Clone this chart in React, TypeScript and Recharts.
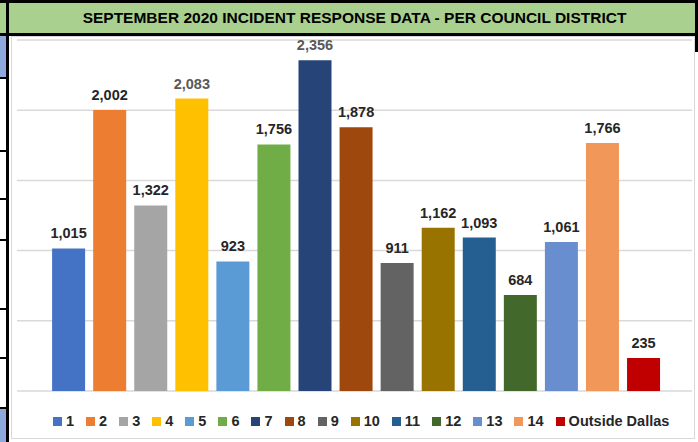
import React from 'react';
import { BarChart, Bar, XAxis, YAxis, CartesianGrid, Cell, LabelList } from 'recharts';

const districts = ['1', '2', '3', '4', '5', '6', '7', '8', '9', '10', '11', '12', '13', '14', 'Outside Dallas'];
const incidents = [1015, 2002, 1322, 2083, 923, 1756, 2356, 1878, 911, 1162, 1093, 684, 1061, 1766, 235];
const yTicks = [0, 500, 1000, 1500, 2000, 2500];
const title = 'SEPTEMBER 2020 INCIDENT RESPONSE DATA - PER COUNCIL DISTRICT';

const colors = [
  '#4472C4', '#ED7D31', '#A5A5A5', '#FFC000', '#5B9BD5', '#70AD47', '#264478', '#9E480E',
  '#636363', '#997300', '#255E91', '#43682B', '#698ED0', '#F1975A', '#C00000',
];
// a couple of the value labels are grey in the source
const grayLabels = ['4', '7'];

const data = districts.map((name, i) => ({ name, value: incidents[i] }));

const FONT = '"Liberation Sans", Arial, sans-serif';

const ValueLabel = (props: any) => {
  const { x, y, width, value, index } = props;
  const name = districts[index];
  return (
    <text
      x={x + width / 2}
      y={y - 10}
      textAnchor="middle"
      fontFamily={FONT}
      fontWeight="bold"
      fontSize={14.5}
      fill={grayLabels.includes(name) ? '#595959' : '#262626'}
    >
      {Number(value).toLocaleString('en-US')}
    </text>
  );
};

// spreadsheet cell borders peeking in on the left
const leftLines = [77, 150, 198, 239, 308, 357, 407];

const App = () => {
  return (
    <div style={{ position: 'absolute', left: 0, top: 0, width: 698, height: 442, background: '#fff', overflow: 'hidden', fontFamily: FONT }}>
      {/* left strip */}
      <div style={{ position: 'absolute', left: 0, top: 36, width: 6, height: 41, background: '#8EA9DB' }} />
      <div style={{ position: 'absolute', left: 0, top: 407, width: 6, height: 35, background: '#8EA9DB' }} />
      {leftLines.map((y) => (
        <div key={y} style={{ position: 'absolute', left: 0, top: y, width: 8, height: 2, background: '#000' }} />
      ))}
      <div style={{ position: 'absolute', left: 6, top: 0, width: 3, height: 442, background: '#000' }} />

      {/* title bar */}
      <div
        style={{
          position: 'absolute', left: 0, top: 0, width: 698, height: 30,
          background: '#A9D08E', borderTop: '3px solid #000', borderBottom: '3px solid #000',
        }}
      />
      <div style={{ position: 'absolute', left: 6, top: 0, width: 3, height: 36, background: '#000' }} />
      <div style={{ position: 'absolute', left: 695, top: 0, width: 3, height: 52, background: '#000' }} />
      <div
        style={{
          position: 'absolute', left: 0, top: 3, width: 709, height: 30,
          display: 'flex', alignItems: 'center', justifyContent: 'center',
          fontWeight: 'bold', fontSize: 15.5, color: '#000', whiteSpace: 'nowrap',
        }}
      >
        {title}
      </div>

      {/* chart area */}
      <div style={{ position: 'absolute', left: 11, top: 36, width: 682, height: 401, border: '1px solid #D9D9D9', background: '#fff' }} />

      <div style={{ position: 'absolute', left: 0, top: 0 }}>
        <BarChart width={698} height={442} data={data} margin={{ top: 40, right: 6, bottom: 51, left: 17 }} barCategoryGap="10%">
          <CartesianGrid horizontal vertical={false} stroke="#D9D9D9" strokeWidth={1.5} />
          <XAxis dataKey="name" hide padding={{ left: 31, right: 28 }} />
          <YAxis hide domain={[0, 2500]} ticks={yTicks} />
          <Bar dataKey="value" isAnimationActive={false}>
            {data.map((d, i) => (
              <Cell key={d.name} fill={colors[i]} />
            ))}
            <LabelList dataKey="value" content={<ValueLabel />} />
          </Bar>
        </BarChart>
      </div>

      {/* legend */}
      <div style={{ position: 'absolute', left: 53, top: 411, height: 20, display: 'flex', alignItems: 'center', whiteSpace: 'nowrap' }}>
        {districts.map((name, i) => (
          <div key={name} style={{ display: 'flex', alignItems: 'center', marginRight: 12 }}>
            <span style={{ display: 'inline-block', width: 9, height: 9, background: colors[i], marginRight: 4 }} />
            <span style={{ fontWeight: 'bold', fontSize: 14.5, color: '#262626' }}>{name}</span>
          </div>
        ))}
      </div>
    </div>
  );
};

export default App;
